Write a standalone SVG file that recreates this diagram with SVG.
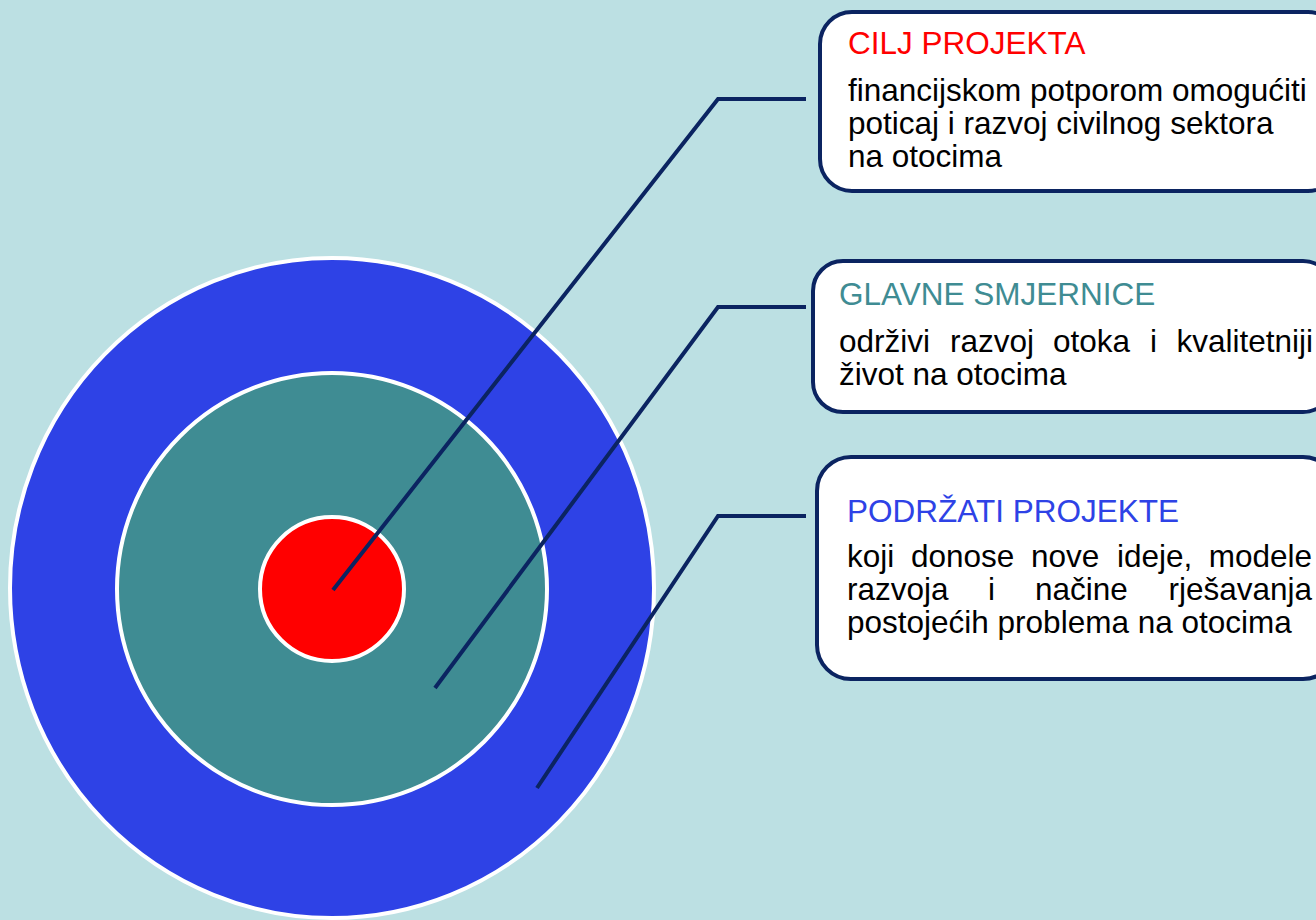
<svg xmlns="http://www.w3.org/2000/svg" width="1316" height="920" viewBox="0 0 1316 920">
<style>
.box{fill:#ffffff;stroke:#0b2461;stroke-width:4}
.ring{stroke:#ffffff;stroke-width:4}
.conn{fill:none;stroke:#0b2461;stroke-width:4;stroke-linejoin:miter}
text{font-family:"Liberation Sans",Arial,sans-serif;font-size:31.5px}
.body{fill:#000000}
</style>
<rect x="0" y="0" width="1316" height="920" fill="#bce0e3"/>
<g id="target">
<ellipse class="ring" cx="332" cy="588" rx="322" ry="330" fill="#2e42e6"/>
<ellipse class="ring" cx="332" cy="589" rx="215" ry="216" fill="#3f8c93"/>
<circle class="ring" cx="332" cy="589" r="72" fill="#ff0000"/>
</g>
<g id="connectors">
<polyline class="conn" points="333,590 718,99 806,99"/>
<polyline class="conn" points="435,688 718,307 806,307"/>
<polyline class="conn" points="537,788 718,516 806,516"/>
</g>
<g id="box-cilj">
<rect class="box" x="820" y="12" width="520" height="179" rx="32"/>
<text x="848" y="54" fill="#ff0000">CILJ PROJEKTA</text>
<text class="body" x="848" y="101">financijskom potporom omogućiti</text>
<text class="body" x="848" y="134">poticaj i razvoj civilnog sektora</text>
<text class="body" x="848" y="167">na otocima</text>
</g>
<g id="box-smjernice">
<rect class="box" x="813" y="261" width="520" height="151" rx="30"/>
<text x="839" y="305" fill="#3f8c93">GLAVNE SMJERNICE</text>
<text class="body" y="352"><tspan x="839">održivi</tspan><tspan x="950">razvoj</tspan><tspan x="1053">otoka</tspan><tspan x="1150">i</tspan><tspan x="1313" text-anchor="end">kvalitetniji</tspan></text>
<text class="body" x="839" y="385">život na otocima</text>
</g>
<g id="box-podrzati">
<rect class="box" x="817" y="457" width="520" height="222" rx="34"/>
<text x="847" y="522" fill="#2e42e6">PODRŽATI PROJEKTE</text>
<text class="body" y="567"><tspan x="847">koji</tspan><tspan x="911">donose</tspan><tspan x="1031">nove</tspan><tspan x="1117">ideje,</tspan><tspan x="1312" text-anchor="end">modele</tspan></text>
<text class="body" y="600"><tspan x="847">razvoja</tspan><tspan x="988">i</tspan><tspan x="1035">načine</tspan><tspan x="1312" text-anchor="end">rješavanja</tspan></text>
<text class="body" x="847" y="633">postojećih problema na otocima</text>
</g>
</svg>
